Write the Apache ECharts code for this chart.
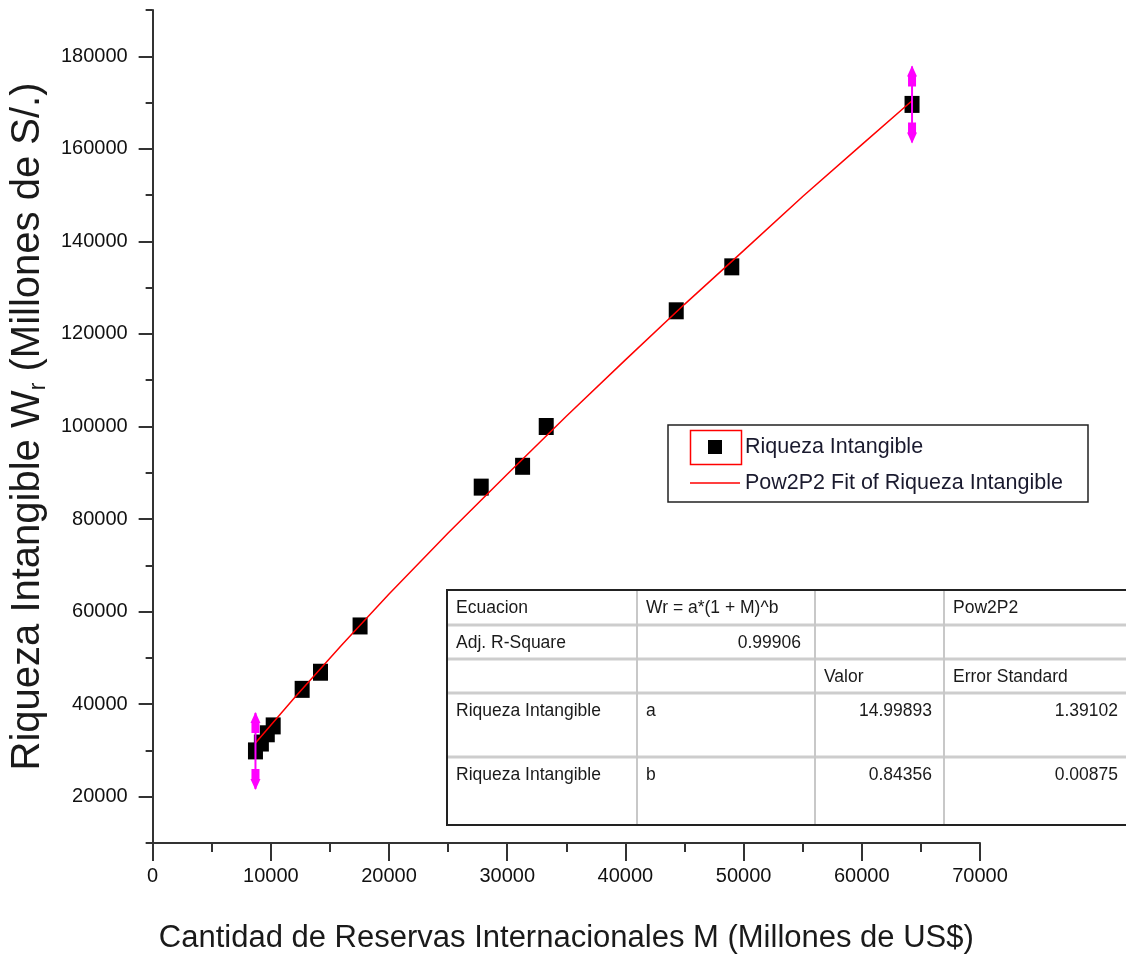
<!DOCTYPE html>
<html>
<head>
<meta charset="utf-8">
<script src="https://cdn.jsdelivr.net/npm/echarts@6/dist/echarts.min.js"></script>
<style>
html,body{margin:0;padding:0;background:#fff;}
#chart{width:1126px;height:961px;}
</style>
</head>
<body>
<div id="chart"></div>
<script>
// ---- data ----
const reservasM = [8700, 9200, 9700, 10200, 12650, 14200, 17550, 27800, 31300, 33300, 44300, 49000, 64250];
const riquezaW  = [29900, 31600, 33600, 35300, 43200, 46900, 56900, 86900, 91400, 100000, 125000, 134500, 169600];
const fitM = [8700, 12000, 16000, 20000, 25000, 30000, 35000, 40000, 45000, 50000, 55000, 60000, 64250];
const fitW = [31600, 41400, 52800, 63800, 77000, 89700, 102200, 114400, 126400, 138000, 149700, 160900, 170400];
const yLabelValues = [20000, 40000, 60000, 80000, 100000, 120000, 140000, 160000, 180000];
const seriesNames = ['Riqueza Intangible', 'Pow2P2 Fit of Riqueza Intangible'];
const xTitle = 'Cantidad de Reservas Internacionales M (Millones de US$)';
const yTitleParts = ['Riqueza Intangible W', 'r', ' (Millones de S/.)'];
const tableCells = [
  // [row, col, text, align]
  [0, 0, 'Ecuacion', 'left'], [0, 1, 'Wr = a*(1 + M)^b', 'left'], [0, 3, 'Pow2P2', 'left'],
  [1, 0, 'Adj. R-Square', 'left'], [1, 1, '0.99906', 'right'],
  [2, 2, 'Valor', 'left'], [2, 3, 'Error Standard', 'left'],
  [3, 0, 'Riqueza Intangible', 'left'], [3, 1, 'a', 'left'], [3, 2, '14.99893', 'right'], [3, 3, '1.39102', 'right'],
  [4, 0, 'Riqueza Intangible', 'left'], [4, 1, 'b', 'left'], [4, 2, '0.84356', 'right'], [4, 3, '0.00875', 'right']
];

// ---- layout ----
const FONT = '"Liberation Sans", Arial, sans-serif';
const colX = [447, 637, 815, 944, 1135];
const colRightText = [0, 801, 932, 1118];
const rowY = [590, 625, 659, 693, 757, 825];

const scatterData = reservasM.map((m, i) => [m, riquezaW[i]]);
const fitData = fitM.map((m, i) => [m, fitW[i]]);
const markerData = [scatterData[0], scatterData[scatterData.length - 1]];
const plain = v => String(v);

const graphics = [];
// legend frame + highlight
graphics.push({type: 'rect', shape: {x: 668, y: 425, width: 420, height: 77}, style: {fill: '#fff', stroke: '#222', lineWidth: 1.5}, z: 0});
graphics.push({type: 'rect', shape: {x: 690.5, y: 430.5, width: 51, height: 34}, style: {fill: 'none', stroke: '#ff0000', lineWidth: 1.5}, z: 10});
// table
graphics.push({type: 'rect', shape: {x: colX[0], y: rowY[0], width: colX[4] - colX[0], height: rowY[5] - rowY[0]}, style: {fill: '#fff', stroke: 'none'}, z: 5});
for (let i = 1; i < rowY.length - 1; i++) {
  graphics.push({type: 'line', shape: {x1: colX[0], y1: rowY[i], x2: colX[4], y2: rowY[i]}, style: {stroke: '#cdcdcd', lineWidth: 3}, z: 6});
}
for (let j = 1; j < colX.length - 1; j++) {
  graphics.push({type: 'line', shape: {x1: colX[j], y1: rowY[0], x2: colX[j], y2: rowY[5]}, style: {stroke: '#c8c8c8', lineWidth: 2}, z: 6});
}
graphics.push({type: 'polyline', shape: {points: [[colX[4], rowY[0]], [colX[0], rowY[0]], [colX[0], rowY[5]], [colX[4], rowY[5]]]}, style: {stroke: '#222', lineWidth: 2, fill: 'none'}, z: 7});
tableCells.forEach(([r, c, t, al]) => {
  graphics.push({
    type: 'text', z: 8,
    style: {
      text: t, x: al === 'left' ? colX[c] + 9 : colRightText[c], y: rowY[r] + 18,
      textAlign: al, textVerticalAlign: 'middle', fontFamily: FONT, fontSize: 17.5, fill: '#1a1a1a'
    }
  });
});

const chart = echarts.init(document.getElementById('chart'), null, {renderer: 'canvas'});
const axisColor = '#333';
chart.setOption({
  animation: false,
  backgroundColor: '#fff',
  grid: {left: 150, top: 10, right: 146, bottom: 111, containLabel: false},
  xAxis: {
    type: 'value', min: 0, max: 70000, interval: 10000,
    name: xTitle, nameLocation: 'middle', nameGap: 77,
    nameTextStyle: {fontFamily: FONT, fontSize: 31, color: '#1a1a1a', lineHeight: 36},
    axisLine: {show: true, onZero: false, lineStyle: {color: axisColor, width: 2}},
    axisTick: {show: true, length: 18, lineStyle: {color: axisColor, width: 2}},
    minorTick: {show: true, splitNumber: 2, length: 9, lineStyle: {color: axisColor, width: 2}},
    axisLabel: {margin: 23, fontFamily: FONT, fontSize: 20, color: '#111', formatter: plain},
    splitLine: {show: false}
  },
  yAxis: [{
    type: 'value', min: 10000, max: 190000, interval: 10000, position: 'left', offset: 0,
    name: '{a|' + yTitleParts[0] + '}{s|' + yTitleParts[1] + '}{a|' + yTitleParts[2] + '}',
    nameLocation: 'middle', nameGap: 102, nameRotate: 90,
    nameTextStyle: {
      fontFamily: FONT, color: '#1a1a1a',
      rich: {
        a: {fontFamily: FONT, fontSize: 40, lineHeight: 44, color: '#1a1a1a'},
        s: {fontFamily: FONT, fontSize: 23, lineHeight: 44, verticalAlign: 'bottom', color: '#1a1a1a'}
      }
    },
    axisLine: {show: true, onZero: false, lineStyle: {color: axisColor, width: 2}},
    axisTick: {show: true, length: 7, lineStyle: {color: axisColor, width: 2}},
    axisLabel: {margin: 25, fontFamily: FONT, fontSize: 20, color: '#111', customValues: yLabelValues, formatter: plain},
    splitLine: {show: false}
  }, {
    type: 'value', min: 10000, max: 190000, interval: 10000, position: 'left', offset: 0,
    axisLine: {show: false},
    axisTick: {show: true, length: 14, lineStyle: {color: axisColor, width: 2}, customValues: yLabelValues},
    axisLabel: {show: false},
    splitLine: {show: false}
  }],
  legend: {
    orient: 'vertical', left: 690, top: 436, padding: 0,
    itemWidth: 50, itemHeight: 14, itemGap: 14, selectedMode: false,
    textStyle: {fontFamily: FONT, fontSize: 21.5, lineHeight: 22, color: '#1a1a2e'},
    data: [
      {name: seriesNames[0], icon: 'path://M0,0h0.01v0.01h-0.01z M18,0h14v14h-14z M49.99,13.99h0.01v0.01h-0.01z'},
      {name: seriesNames[1], icon: 'path://M0,0h50v1.5h-50z'}
    ],
    z: 5
  },
  graphic: graphics,
  series: [{
    name: seriesNames[0], type: 'scatter', data: scatterData,
    symbol: 'rect', symbolSize: [15, 17],
    itemStyle: {color: '#000', opacity: 1}, z: 2
  }, {
    name: seriesNames[1], type: 'line', data: fitData,
    symbol: 'none', showSymbol: false, smooth: false,
    lineStyle: {color: '#ff0000', width: 1.5}, itemStyle: {color: '#ff0000'}, z: 3
  }, {
    name: 'marker', type: 'custom', data: markerData, z: 4,
    renderItem: function (params, api) {
      const p = api.coord([api.value(0), api.value(1)]);
      const head = s => [[0, s * 39], [5, s * 28], [4, s * 28], [4, s * 18], [-4, s * 18], [-4, s * 28], [-5, s * 28]];
      return {
        type: 'group', x: p[0], y: p[1],
        children: [
          {type: 'line', shape: {x1: 0, y1: -38, x2: 0, y2: 38}, style: {stroke: '#ff00ff', lineWidth: 2}},
          {type: 'polygon', shape: {points: head(-1)}, style: {fill: '#ff00ff'}},
          {type: 'polygon', shape: {points: head(1)}, style: {fill: '#ff00ff'}}
        ]
      };
    }
  }]
});
</script>
</body>
</html>
